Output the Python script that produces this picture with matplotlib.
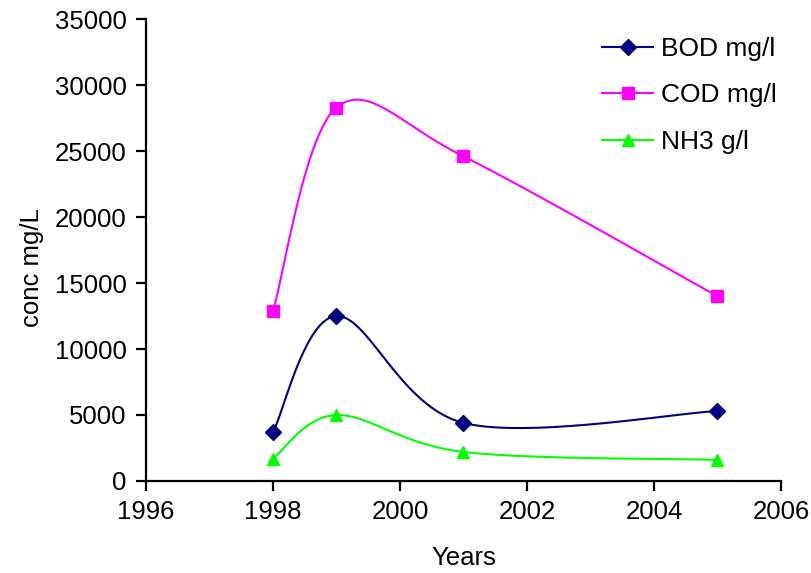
import numpy as np
import matplotlib
matplotlib.use("Agg")
import matplotlib.pyplot as plt

plt.rcParams['font.family'] = ['Liberation Sans', 'DejaVu Sans']

# Data
years = [1998, 1999, 2001, 2005]
bod = [3700, 12500, 4400, 5300]
cod = [12900, 28300, 24600, 14000]
nh3 = [1700, 5000, 2200, 1600]


def smooth(x, y, n=40):
    # spreadsheet style smoothing: cubic bezier through the points,
    # control points taken from neighbouring points (1/6 tension)
    x = np.asarray(x, float)
    y = np.asarray(y, float)
    px = np.concatenate([[x[0]], x, [x[-1]]])
    py = np.concatenate([[y[0]], y, [y[-1]]])
    t = np.linspace(0, 1, n)
    xs, ys = [], []
    for i in range(1, len(px) - 2):
        p0 = np.array([px[i], py[i]])
        p3 = np.array([px[i + 1], py[i + 1]])
        p1 = p0 + (np.array([px[i + 1], py[i + 1]]) - np.array([px[i - 1], py[i - 1]])) / 6
        p2 = p3 - (np.array([px[i + 2], py[i + 2]]) - np.array([px[i], py[i]])) / 6
        b = (np.outer((1 - t) ** 3, p0) + np.outer(3 * (1 - t) ** 2 * t, p1)
             + np.outer(3 * (1 - t) * t ** 2, p2) + np.outer(t ** 3, p3))
        xs.extend(b[:, 0])
        ys.extend(b[:, 1])
    return xs, ys


fig = plt.figure(figsize=(8.12, 5.73), dpi=100)
ax = fig.add_axes([0.1798, 0.1606, 0.782, 0.806])

series = [
    (bod, "BOD mg/l", "#000080", "D", 8),
    (cod, "COD mg/l", "#FF00FF", "s", 8.5),
    (nh3, "NH3 g/l", "#00FF00", "^", 9),
]
for vals, name, col, mk, ms in series:
    sx, sy = smooth(years, vals)
    ax.plot(sx, sy, color=col, lw=1.5, zorder=2)
    ax.plot(years, vals, ls="none", marker=mk, ms=ms, color=col, zorder=3)
    # legend proxy
    ax.plot([], [], color=col, lw=1.5, marker=mk, ms=ms, label=name)

ax.set_xlim(1996, 2006)
ax.set_ylim(0, 35000)
ax.set_xticks(range(1996, 2007, 2))
ax.set_yticks(range(0, 35001, 5000))

for s in ["top", "right"]:
    ax.spines[s].set_visible(False)
for s in ["left", "bottom"]:
    ax.spines[s].set_linewidth(1.6)
ax.tick_params(direction="out", length=7, width=1.6, labelsize=18.5)
ax.tick_params(axis="x", pad=7)
ax.tick_params(axis="y", pad=7)

ax.set_xlabel("Years", fontsize=18.5)
ax.xaxis.set_label_coords(0.5, -0.14)
ax.set_ylabel("conc mg/L", fontsize=18.5)
ax.yaxis.set_label_coords(-0.16, 0.463)

fig.legend(loc="upper right", bbox_to_anchor=(777 / 812, 1 - 37 / 573),
           frameon=False, fontsize=19, handlelength=1.95, labelspacing=0.85,
           handletextpad=0.3, borderpad=0, borderaxespad=0)

fig.savefig("out.png", dpi=100)
